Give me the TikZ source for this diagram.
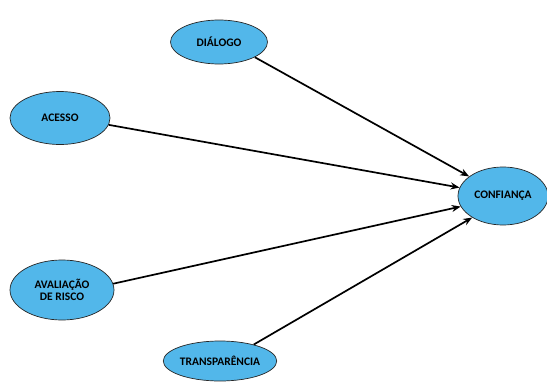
\documentclass[tikz,border=0pt]{standalone}
\usepackage{fontspec}
\setmainfont{Carlito}
\usetikzlibrary{shapes.geometric,arrows.meta}
\definecolor{balao}{RGB}{82,183,234}
\tikzset{
    fator/.style={ellipse, draw=black!85, line width=0.7pt, fill=balao, inner sep=0pt,
        align=center, font=\bfseries\fontsize{11.5}{12.5}\selectfont},
    seta/.style={-{Stealth[length=9pt,width=7pt]}, line width=1.7pt}
}
\begin{document}
\begin{tikzpicture}[x=1pt, y=-1pt]
        \useasboundingbox (0,0) rectangle (547,383);
        % Fatores
        \node[fator, minimum width=97pt, minimum height=44pt] (dialogo) at (219,42) {DIÁLOGO};
        \node[fator, minimum width=100pt, minimum height=53pt] (acesso) at (60,118) {ACESSO};
        \node[fator, minimum width=104pt, minimum height=60pt] (avaliacao) at (62,290) {AVALIAÇÃO\\DE RISCO};
        \node[fator, minimum width=96pt, minimum height=40pt] (transparencia) at (220,361) {TRANSPARÊNCIA};
        \node[fator, minimum width=90pt, minimum height=58pt] (confianca) at (503,196) {CONFIANÇA};

        % Setas
        \draw[seta] (dialogo.337) -- (confianca.150);
        \draw[seta] (acesso.352) -- (confianca.169);
        \draw[seta] (avaliacao.7) -- (confianca.194);
        \draw[seta] (transparencia.26) -- (confianca.215);
\end{tikzpicture}
\end{document}
